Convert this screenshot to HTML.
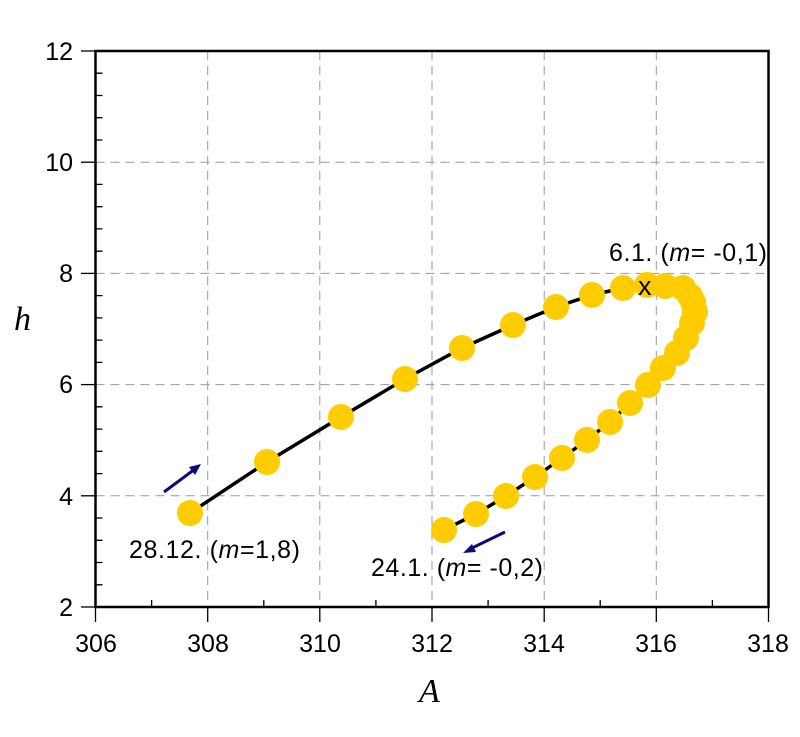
<!DOCTYPE html>
<html><head><meta charset="utf-8"><style>html,body{margin:0;padding:0;background:#fff}svg{display:block}</style></head><body>
<svg width="800" height="737" viewBox="0 0 800 737" xmlns="http://www.w3.org/2000/svg" font-family="Liberation Sans, sans-serif">
<g stroke="#999" stroke-width="1" stroke-dasharray="9,6">
<line x1="207.7" y1="51" x2="207.7" y2="607"/><line x1="319.8" y1="51" x2="319.8" y2="607"/><line x1="432" y1="51" x2="432" y2="607"/><line x1="544.2" y1="51" x2="544.2" y2="607"/><line x1="656.3" y1="51" x2="656.3" y2="607"/>
<line x1="95.5" y1="162.2" x2="768.5" y2="162.2"/><line x1="95.5" y1="273.4" x2="768.5" y2="273.4"/><line x1="95.5" y1="384.6" x2="768.5" y2="384.6"/><line x1="95.5" y1="495.8" x2="768.5" y2="495.8"/>
</g>
<g stroke="#000" stroke-width="1.3">
<line x1="81" y1="51" x2="95.5" y2="51"/><line x1="81" y1="162.2" x2="95.5" y2="162.2"/><line x1="81" y1="273.4" x2="95.5" y2="273.4"/><line x1="81" y1="384.6" x2="95.5" y2="384.6"/><line x1="81" y1="495.8" x2="95.5" y2="495.8"/><line x1="81" y1="607" x2="95.5" y2="607"/>
<line x1="95.5" y1="607" x2="95.5" y2="622"/><line x1="207.7" y1="607" x2="207.7" y2="622"/><line x1="319.8" y1="607" x2="319.8" y2="622"/><line x1="432" y1="607" x2="432" y2="622"/><line x1="544.2" y1="607" x2="544.2" y2="622"/><line x1="656.3" y1="607" x2="656.3" y2="622"/><line x1="768.5" y1="607" x2="768.5" y2="622"/>
<path d="M95.5 73.2h7M95.5 95.5h7M95.5 117.7h7M95.5 140h7M95.5 184.4h7M95.5 206.7h7M95.5 228.9h7M95.5 251.2h7M95.5 295.6h7M95.5 317.9h7M95.5 340.1h7M95.5 362.4h7M95.5 406.8h7M95.5 429.1h7M95.5 451.3h7M95.5 473.6h7M95.5 518h7M95.5 540.3h7M95.5 562.5h7M95.5 584.8h7"/>
<path d="M151.6 607v-7M263.8 607v-7M375.9 607v-7M488.1 607v-7M600.2 607v-7M712.4 607v-7"/>
</g>
<rect x="95.5" y="51" width="673" height="556" fill="none" stroke="#000" stroke-width="2.5"/>
<g font-size="25" fill="#000" text-anchor="end">
<text x="73" y="60">12</text><text x="73" y="171">10</text><text x="73" y="282">8</text><text x="73" y="393">6</text><text x="73" y="505">4</text><text x="73" y="616">2</text>
</g>
<g font-size="25" fill="#000" text-anchor="middle">
<text x="96" y="652">306</text><text x="208" y="652">308</text><text x="320" y="652">310</text><text x="432" y="652">312</text><text x="544" y="652">314</text><text x="656" y="652">316</text><text x="768" y="652">318</text>
</g>
<text x="14" y="330" font-family="Liberation Serif, serif" font-style="italic" font-size="34">h</text>
<text x="419" y="702" font-family="Liberation Serif, serif" font-style="italic" font-size="34">A</text>
<polyline fill="none" stroke="#000" stroke-width="3.5" points="190,513 267,462 341,417 405,379 462,348 513,325 556,307 592,295 623,288 647,285 665,286 683,288 693,302 695,312 692,323 686,338 677,353 663,368 648,385 630,403 610,422 587,440 562,458 535,477 506,496 476,514 444,530"/>
<g fill="#FFCC00">
<circle cx="190" cy="513" r="13"/><circle cx="267" cy="462" r="13"/><circle cx="341" cy="417" r="13"/><circle cx="405" cy="379" r="13"/><circle cx="462" cy="348" r="13"/><circle cx="513" cy="325" r="13"/><circle cx="556" cy="307" r="13"/><circle cx="592" cy="295" r="13"/><circle cx="623" cy="288" r="13"/><circle cx="647" cy="285" r="13"/><circle cx="665" cy="286" r="13"/><circle cx="683" cy="288" r="13"/><circle cx="690" cy="296" r="13"/><circle cx="693" cy="302" r="13"/><circle cx="695" cy="312" r="13"/><circle cx="692" cy="323" r="13"/><circle cx="686" cy="338" r="13"/><circle cx="677" cy="353" r="13"/><circle cx="663" cy="368" r="13"/><circle cx="648" cy="385" r="13"/><circle cx="630" cy="403" r="13"/><circle cx="610" cy="422" r="13"/><circle cx="587" cy="440" r="13"/><circle cx="562" cy="458" r="13"/><circle cx="535" cy="477" r="13"/><circle cx="506" cy="496" r="13"/><circle cx="476" cy="514" r="13"/><circle cx="444" cy="530" r="13"/>
</g>
<text x="638" y="295" font-size="27" fill="#000">x</text>
<g stroke="#0a0a7a" stroke-width="3" fill="#0a0a7a">
<line x1="164" y1="492" x2="195" y2="469"/><polygon points="201,464 189,467 195,475" stroke="none"/>
<line x1="505" y1="532" x2="470" y2="549"/><polygon points="463,553 472,544 476,552" stroke="none"/>
</g>
<g font-size="25" fill="#000">
<text x="609" y="261" textLength="158">6.1. (<tspan font-style="italic">m</tspan>= -0,1)</text>
<text x="129" y="558" textLength="171">28.12. (<tspan font-style="italic">m</tspan>=1,8)</text>
<text x="371" y="576" textLength="172">24.1. (<tspan font-style="italic">m</tspan>= -0,2)</text>
</g>
</svg>
</body></html>
